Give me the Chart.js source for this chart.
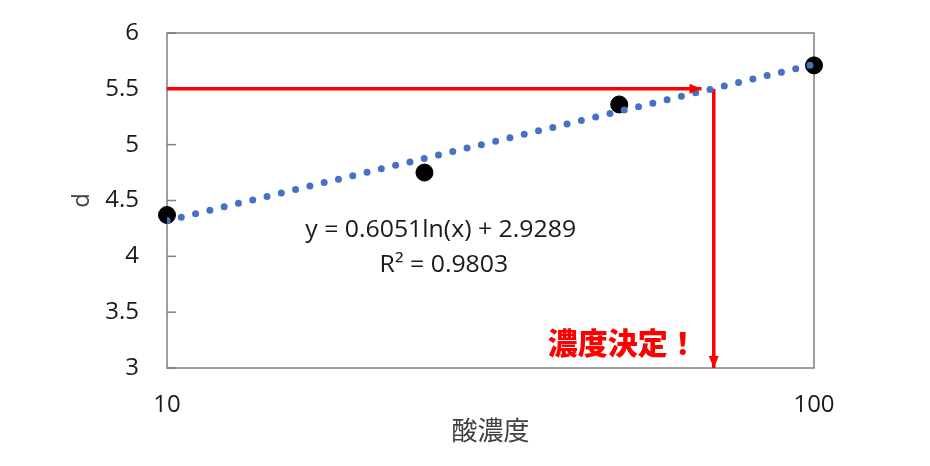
<!DOCTYPE html>
<html>
<head>
<meta charset="utf-8">
<script src="https://cdn.jsdelivr.net/npm/chart.js@4"></script>
<style>
  html, body { margin: 0; padding: 0; background: #fff; }
</style>
</head>
<body>
<canvas id="chart" width="930" height="466"></canvas>
<script>
// 測定点
const concX = [10, 25, 50, 100];
const dValues = [4.37, 4.75, 5.36, 5.71];
// 近似曲線（対数）の両端
const trendX = [10, 100];
const trendY = [4.32, 5.72];
// 矢印
const hArrowX = [10, 67];
const hArrowY = [5.5, 5.5];
const vArrowX = [70, 70];
const vArrowY = [5.5, 3];
// 目盛り
const xTicks = [10, 100];
const eqLines = ["y = 0.6051ln(x) + 2.9289", "R\u00b2 = 0.9803"];
const callout = "濃度決定！";

const numFont = "'Open Sans', 'Noto Sans', sans-serif";
const jpFont = "'Noto Sans CJK JP', sans-serif";
const red = "#ff0000";

function pts(xs, ys) {
  return xs.map((x, i) => ({ x: x, y: ys[i] }));
}

const decor = {
  id: "decor",
  beforeDatasetsDraw(chart) {
    const { ctx, chartArea: a, scales } = chart;
    ctx.save();
    ctx.strokeStyle = "#808080";
    ctx.lineWidth = 1.5;
    ctx.strokeRect(a.left, a.top, a.right - a.left, a.bottom - a.top);
    // 内向きの目盛り
    scales.y.ticks.forEach(t => {
      const py = scales.y.getPixelForValue(t.value);
      ctx.beginPath();
      ctx.moveTo(a.left, py);
      ctx.lineTo(a.left + 9, py);
      ctx.stroke();
    });
    ctx.restore();
  },
  afterDatasetsDraw(chart) {
    const { ctx, chartArea: a } = chart;
    ctx.save();
    // 矢印の先
    chart.data.datasets.forEach((ds, i) => {
      if (!ds.arrow) return;
      const els = chart.getDatasetMeta(i).data;
      const p0 = els[els.length - 2], p1 = els[els.length - 1];
      const ang = Math.atan2(p1.y - p0.y, p1.x - p0.x);
      const len = 12, half = 5;
      ctx.fillStyle = red;
      ctx.beginPath();
      ctx.moveTo(p1.x, p1.y);
      ctx.lineTo(p1.x - len * Math.cos(ang) + half * Math.sin(ang),
                 p1.y - len * Math.sin(ang) - half * Math.cos(ang));
      ctx.lineTo(p1.x - len * Math.cos(ang) - half * Math.sin(ang),
                 p1.y - len * Math.sin(ang) + half * Math.cos(ang));
      ctx.closePath();
      ctx.fill();
    });

    // 近似式
    const w = a.right - a.left, h = a.bottom - a.top;
    ctx.fillStyle = "#1a1a1a";
    ctx.font = "23px " + numFont;
    ctx.textAlign = "center";
    ctx.textBaseline = "middle";
    const sx = 1.08;
    ctx.save();
    ctx.translate(a.left + 0.423 * w, a.top + 0.589 * h);
    ctx.scale(sx, 1);
    ctx.fillText(eqLines[0], 0, 0);
    ctx.restore();
    ctx.save();
    ctx.translate(a.left + 0.428 * w, a.top + 0.693 * h);
    ctx.scale(sx, 1);
    ctx.fillText(eqLines[1], 0, 0);
    ctx.restore();

    // 濃度決定！
    const vx = chart.scales.x.getPixelForValue(vArrowX[0]);
    ctx.fillStyle = red;
    ctx.font = "900 30px " + jpFont;
    ctx.textAlign = "right";
    ctx.fillText(callout, vx - 16, a.bottom - 25);
    ctx.restore();
  }
};

new Chart(document.getElementById("chart"), {
  type: "scatter",
  data: {
    datasets: [
      {
        label: "trend",
        data: pts(trendX, trendY),
        showLine: true,
        borderColor: "#4472c4",
        borderWidth: 7,
        borderDash: [0, 14.7],
        borderCapStyle: "round",
        pointRadius: 0,
        order: 0,
      },
      {
        label: "d",
        data: pts(concX, dValues),
        backgroundColor: "#000",
        borderColor: "#000",
        pointRadius: 8.5,
        clip: false,
        order: 1,
      },
      {
        label: "h-arrow",
        arrow: true,
        data: pts(hArrowX, hArrowY),
        showLine: true,
        borderColor: red,
        borderWidth: 3.5,
        pointRadius: 0,
        clip: false,
        order: 2,
      },
      {
        label: "v-arrow",
        arrow: true,
        data: pts(vArrowX, vArrowY),
        showLine: true,
        borderColor: red,
        borderWidth: 3.5,
        pointRadius: 0,
        clip: false,
        order: 2,
      },
    ],
  },
  options: {
    responsive: false,
    animation: false,
    devicePixelRatio: 1,
    layout: { padding: { top: 33, right: 116, bottom: 0, left: 0 } },
    plugins: {
      legend: { display: false },
      tooltip: { enabled: false },
    },
    scales: {
      x: {
        type: "logarithmic",
        min: 10,
        max: 100,
        afterBuildTicks: s => { s.ticks = xTicks.map(v => ({ value: v })); },
        afterFit: s => { s.height = 98; },
        grid: { display: false, drawTicks: true, tickLength: 23 },
        border: { display: false },
        ticks: {
          padding: 0,
          color: "#1a1a1a",
          font: { size: 24, family: numFont },
          maxRotation: 0,
          callback: v => String(v),
        },
        title: {
          display: true,
          text: "酸濃度",
          color: "#404040",
          font: { size: 26, family: jpFont },
          padding: { top: 0, bottom: 20 },
        },
      },
      y: {
        min: 3,
        max: 6,
        afterFit: s => { s.width = 167; },
        grid: { display: false, drawTicks: true, tickLength: 28 },
        border: { display: false },
        ticks: {
          stepSize: 0.5,
          padding: 0,
          color: "#1a1a1a",
          font: { size: 24, family: numFont },
          callback: v => String(Number(v)),
        },
        title: {
          display: true,
          text: "d",
          color: "#404040",
          font: { size: 24, family: numFont },
          padding: { top: 68, bottom: 0 },
        },
      },
    },
  },
  plugins: [decor],
});
</script>
</body>
</html>
